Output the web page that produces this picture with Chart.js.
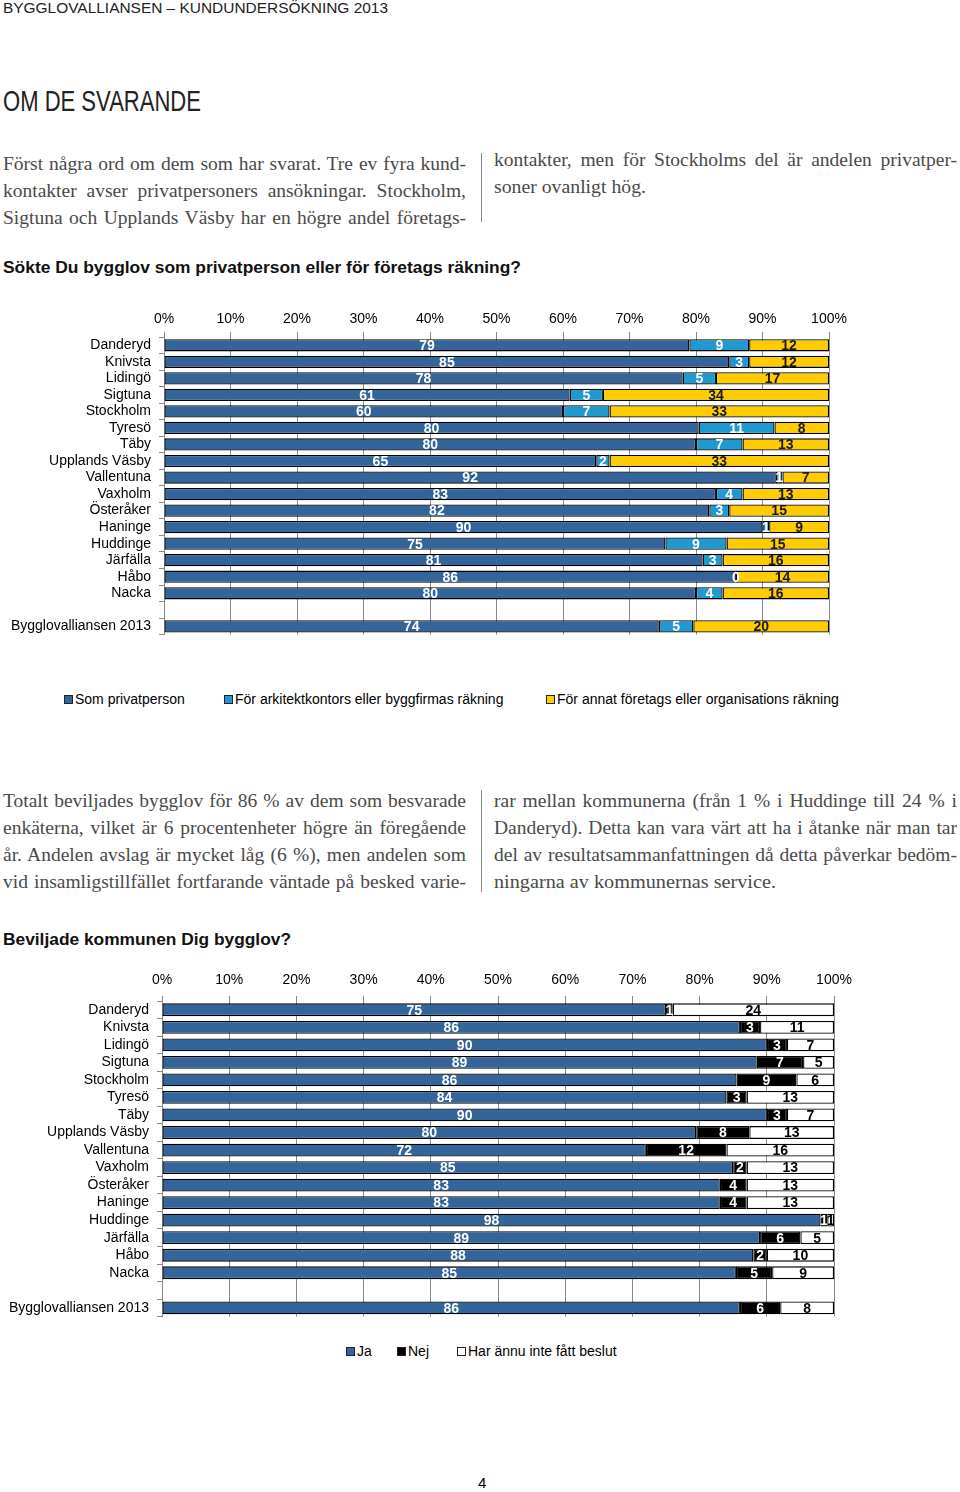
<!DOCTYPE html>
<html lang="sv">
<head>
<meta charset="utf-8">
<title>Bygglovalliansen – Kundundersökning 2013</title>
<script src="https://cdn.jsdelivr.net/npm/chart.js@4.4.1/dist/chart.umd.min.js"></script>
<style>
  html, body { margin: 0; padding: 0; background: #fff; }
  body { width: 960px; height: 1492px; position: relative; overflow: hidden;
         font-family: "Liberation Sans", Arial, sans-serif; color: #000; }
  .abs { position: absolute; white-space: nowrap; transform-origin: 0 50%; }
  .head { font-size: 14px; line-height: 16px; color: #222; }
  .title { font-family: "Liberation Sans Narrow", "Liberation Sans", Arial, sans-serif;
           font-size: 29px; line-height: 34px; color: #222; }
  .body { font-family: "Liberation Serif", "Times New Roman", serif; font-size: 19.5px;
          line-height: 27px; color: #4a4a4a; }
  .q { font-weight: bold; font-size: 16px; line-height: 20px; color: #111; }
  .divider { position: absolute; width: 1px; background: #888; }
  .chartbox { position: absolute; left: 0; width: 960px; }
  .legend-item { position: absolute; font-size: 14px; line-height: 16px; white-space: nowrap; }
  .legend-item i { display: inline-block; width: 7px; height: 7px; border: 1px solid #222;
                   margin-right: 2px; vertical-align: 0; }
</style>
</head>
<body>

<div class="abs head" style="left:3px;top:0px" data-w="385">BYGGLOVALLIANSEN – KUNDUNDERSÖKNING 2013</div>
<div class="abs title" style="left:3px;top:84px" data-w="198">OM DE SVARANDE</div>

<div class="abs body" style="left:3px;top:150px" data-w="463" data-mode="justify">Först några ord om dem som har svarat. Tre ev fyra kund-</div>
<div class="abs body" style="left:3px;top:177px" data-w="463" data-mode="justify">kontakter avser privatpersoners ansökningar. Stockholm,</div>
<div class="abs body" style="left:3px;top:204px" data-w="463" data-mode="justify">Sigtuna och Upplands Väsby har en högre andel företags-</div>
<div class="divider" style="left:481px;top:153px;height:69px"></div>
<div class="abs body" style="left:494px;top:146px" data-w="463" data-mode="justify">kontakter, men för Stockholms del är andelen privatper-</div>
<div class="abs body" style="left:494px;top:173px" data-w="152">soner ovanligt hög.</div>

<div class="abs q" style="left:3px;top:258px" data-w="518">Sökte Du bygglov som privatperson eller för företags räkning?</div>

<div class="chartbox" style="top:301px;height:350px"><canvas id="chartSokte"></canvas></div>
<div id="legendSokte"></div>

<div class="abs body" style="left:3px;top:787px" data-w="463" data-mode="justify">Totalt beviljades bygglov för 86 % av dem som besvarade</div>
<div class="abs body" style="left:3px;top:814px" data-w="463" data-mode="justify">enkäterna, vilket är 6 procentenheter högre än föregående</div>
<div class="abs body" style="left:3px;top:841px" data-w="463" data-mode="justify">år. Andelen avslag är mycket låg (6 %), men andelen som</div>
<div class="abs body" style="left:3px;top:868px" data-w="463" data-mode="justify">vid insamligstillfället fortfarande väntade på besked varie-</div>
<div class="divider" style="left:481px;top:790px;height:102px"></div>
<div class="abs body" style="left:494px;top:787px" data-w="463" data-mode="justify">rar mellan kommunerna (från 1 % i Huddinge till 24 % i</div>
<div class="abs body" style="left:494px;top:814px" data-w="463" data-mode="justify">Danderyd). Detta kan vara värt att ha i åtanke när man tar</div>
<div class="abs body" style="left:494px;top:841px" data-w="463" data-mode="justify">del av resultatsammanfattningen då detta påverkar bedöm-</div>
<div class="abs body" style="left:494px;top:868px" data-w="282">ningarna av kommunernas service.</div>

<div class="abs q" style="left:3px;top:930px" data-w="288">Beviljade kommunen Dig bygglov?</div>

<div class="chartbox" style="top:960px;height:373px"><canvas id="chartBeviljade"></canvas></div>
<div id="legendBeviljade"></div>

<div class="abs head" style="left:478px;top:1475px;font-size:15px;color:#000">4</div>

<script>
// Categories (blank row separates the municipalities from the total)
const municipalities = [
  "Danderyd", "Knivsta", "Lidingö", "Sigtuna", "Stockholm", "Tyresö", "Täby",
  "Upplands Väsby", "Vallentuna", "Vaxholm", "Österåker", "Haninge", "Huddinge",
  "Järfälla", "Håbo", "Nacka", "", "Bygglovalliansen 2013"
];

// Sökte Du bygglov som privatperson eller för företags räkning? (%)
const soktePrivat   = [79, 85, 78, 61, 60, 80.4, 80, 65, 92, 83, 82, 90, 75.4, 81, 86, 80, null, 74.4];
const sokteArkitekt = [9, 3, 5, 5, 7, 11.4, 7, 2, 1, 4, 3, 1, 9.2, 3, 0, 4, null, 5.2];
const sokteAnnat    = [12, 12, 17, 34, 33, 8.2, 13, 33, 7, 13, 15, 9, 15.4, 16, 14, 16, null, 20.4];
const sokteNames = ["Som privatperson", "För arkitektkontors eller byggfirmas räkning",
                    "För annat företags eller organisations räkning"];

// Beviljade kommunen Dig bygglov? (%)
const beviljJa   = [75, 86, 90, 88.5, 85.5, 84, 90, 79.5, 72, 85, 83, 83, 98, 89, 88, 85.4, null, 86];
const beviljNej  = [1, 3, 3, 6.9, 8.9, 3, 3, 7.9, 12, 2, 4, 4, 1, 6, 2, 5.4, null, 6];
const beviljEjBeslut = [24, 11, 7, 4.6, 5.6, 13, 7, 12.6, 16, 13, 13, 13, 1, 5, 10, 9.2, null, 8];
const beviljNames = ["Ja", "Nej", "Har ännu inte fått beslut"];

const FONT = '"Liberation Sans", Arial, sans-serif';
Chart.defaults.font.family = FONT;
Chart.defaults.color = "#000";

// writes the rounded value in the middle of every segment
const segmentLabels = {
  id: "segmentLabels",
  afterDatasetsDraw(chart, args, opts) {
    const ctx = chart.ctx;
    ctx.save();
    ctx.font = "bold 14px " + FONT;
    ctx.textAlign = "center";
    ctx.textBaseline = "middle";
    chart.data.datasets.forEach(function (ds, i) {
      chart.getDatasetMeta(i).data.forEach(function (bar, j) {
        const v = ds.data[j];
        if (v === null || v === undefined) return;
        ctx.fillStyle = opts.colors[i];
        ctx.fillText(String(Math.round(v)), (bar.x + bar.base) / 2, bar.y + 1);
      });
    });
    ctx.restore();
  }
};

function makeChart(id, series, names, colors, labelColors, geo) {
  const ctx = document.getElementById(id).getContext("2d");
  return new Chart(ctx, {
    type: "bar",
    data: {
      labels: municipalities,
      datasets: series.map(function (data, i) {
        return {
          label: names[i],
          data: data,
          backgroundColor: colors[i],
          borderColor: "#000",
          borderWidth: 1.3,
          borderSkipped: false,
          barPercentage: geo.barPct,
          categoryPercentage: 1
        };
      })
    },
    options: {
      indexAxis: "y",
      responsive: true,
      maintainAspectRatio: false,
      animation: false,
      layout: { padding: { left: 0, right: geo.right, top: 0, bottom: geo.bottom } },
      plugins: {
        legend: { display: false },
        tooltip: { enabled: false },
        segmentLabels: { colors: labelColors }
      },
      scales: {
        x: {
          position: "top",
          stacked: true,
          min: 0,
          max: 100,
          ticks: {
            stepSize: 10,
            padding: geo.xPad,
            font: { size: 14 },
            callback: function (v) { return v + "%"; }
          },
          grid: { color: "#8a8a8a", tickLength: 5 },
          border: { display: false },
          afterFit: function (s) { s.height = geo.top; }
        },
        y: {
          stacked: true,
          ticks: { padding: 8, autoSkip: false, font: { size: 14 } },
          grid: { drawOnChartArea: false, tickLength: 5, color: "#8a8a8a", offset: true },
          border: { color: "#8a8a8a" },
          afterFit: function (s) { s.width = geo.left; }
        }
      }
    },
    plugins: [segmentLabels]
  });
}

function makeLegend(id, names, colors, xs, y) {
  const box = document.getElementById(id);
  names.forEach(function (name, i) {
    const item = document.createElement("div");
    item.className = "legend-item";
    item.style.left = xs[i] + "px";
    item.style.top = (y - 8) + "px";
    item.innerHTML = '<i style="background:' + colors[i] + '"></i>' + name;
    box.appendChild(item);
  });
}

const sokteColors = ["#33649a", "#1f9ad0", "#ffcc00"];
const beviljColors = ["#33649a", "#000000", "#ffffff"];

makeChart("chartSokte", [soktePrivat, sokteArkitekt, sokteAnnat], sokteNames,
  sokteColors, ["#fff", "#fff", "#1a1a1a"],
  { left: 164, right: 131, top: 36, bottom: 7, xPad: 4, barPct: 0.74 });
makeLegend("legendSokte", sokteNames, sokteColors, [64, 224, 546], 699);

makeChart("chartBeviljade", [beviljJa, beviljNej, beviljEjBeslut], beviljNames,
  beviljColors, ["#fff", "#fff", "#000"],
  { left: 162, right: 126, top: 41, bottom: 8, xPad: 7, barPct: 0.73 });
makeLegend("legendBeviljade", beviljNames, beviljColors, [346, 397, 457], 1351);

// stretch or squeeze text lines to the widths of the printed page
document.querySelectorAll("[data-w]").forEach(function (el) {
  const target = +el.dataset.w;
  const w = el.getBoundingClientRect().width;
  if (el.dataset.mode === "justify" && w < target) {
    const spaces = (el.textContent.match(/ /g) || []).length;
    if (spaces) el.style.wordSpacing = ((target - w) / spaces) + "px";
  } else {
    el.style.transform = "scaleX(" + (target / w) + ")";
  }
});
</script>
</body>
</html>
